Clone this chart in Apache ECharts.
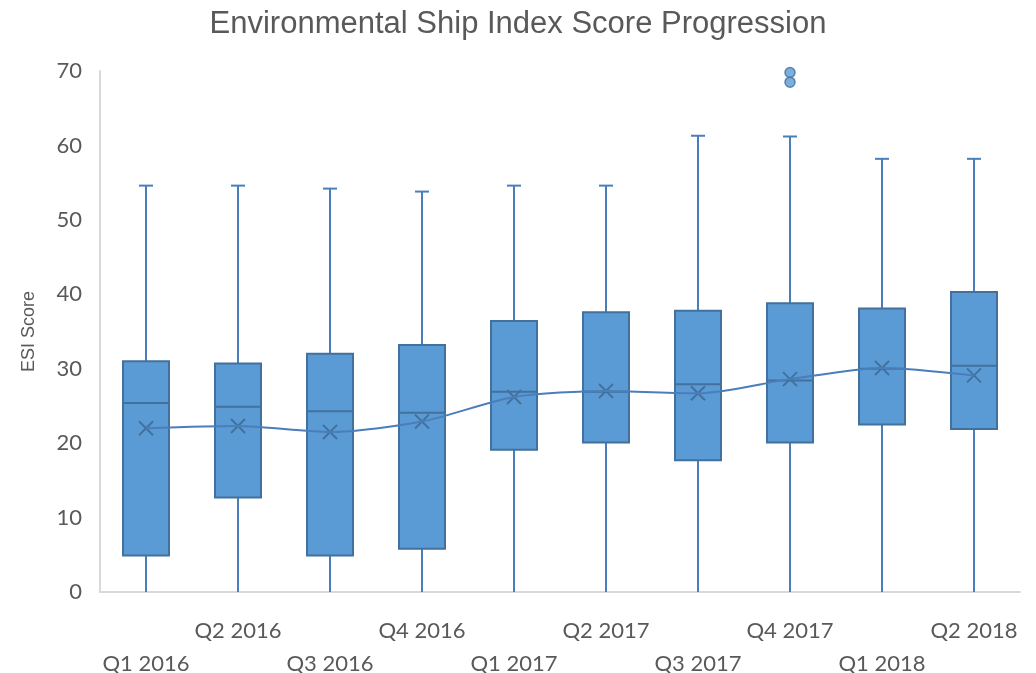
<!DOCTYPE html>
<html><head><meta charset="utf-8">
<script src="https://cdn.jsdelivr.net/npm/echarts@6/dist/echarts.min.js"></script>
<style>html,body{margin:0;padding:0;background:#fff}#c{width:1036px;height:673px}</style>
</head><body><div id="c"></div>
<script>
const categories = ['Q1 2016','Q2 2016','Q3 2016','Q4 2016','Q1 2017','Q2 2017','Q3 2017','Q4 2017','Q1 2018','Q2 2018'];
const whiskerLow = [0,0,0,0,0,0,0,0,0,0];
const q1 = [4.9,12.7,4.9,5.8,19.1,20.1,17.7,20.1,22.5,21.9];
const median = [25.4,24.9,24.3,24.1,26.9,26.9,27.9,28.4,30.0,30.4];
const q3 = [31.0,30.7,32.0,33.2,36.4,37.6,37.8,38.8,38.1,40.3];
const whiskerHigh = [54.6,54.6,54.2,53.8,54.6,54.6,61.3,61.2,58.2,58.2];
const means = [22.0,22.3,21.5,22.9,26.2,27.0,26.7,28.6,30.1,29.1];
const outliers = [['Q4 2017',69.8],['Q4 2017',68.5]];
const yTicks = [0,10,20,30,40,50,60,70];

const fill = '#5b9bd5', stroke = '#41719c', lineCol = '#4a7ebb';
const boxData = categories.map((c,i)=>[i, whiskerLow[i], q1[i], median[i], q3[i], whiskerHigh[i], means[i]]);

function renderBox(params, api){
  const i = api.value(0);
  const pLow = api.coord([i, api.value(1)]);
  const pQ1 = api.coord([i, api.value(2)]);
  const pMed = api.coord([i, api.value(3)]);
  const pQ3 = api.coord([i, api.value(4)]);
  const pHigh = api.coord([i, api.value(5)]);
  const pMean = api.coord([i, api.value(6)]);
  const band = api.size([1,0])[0];
  const w = band*0.5, cap = 14, x = pQ1[0];
  const m = 7;
  return {type:'group', children:[
    {type:'line', shape:{x1:x,y1:pQ3[1],x2:x,y2:pHigh[1]}, style:{stroke:lineCol,lineWidth:2}},
    {type:'line', shape:{x1:x,y1:pQ1[1],x2:x,y2:pLow[1]}, style:{stroke:lineCol,lineWidth:2}},
    {type:'line', shape:{x1:x-cap/2,y1:pHigh[1],x2:x+cap/2,y2:pHigh[1]}, style:{stroke:lineCol,lineWidth:2}},
    {type:'rect', shape:{x:x-w/2,y:pQ3[1],width:w,height:pQ1[1]-pQ3[1]}, style:{fill:fill,stroke:stroke,lineWidth:2}},
    {type:'line', shape:{x1:x-w/2,y1:pMed[1],x2:x+w/2,y2:pMed[1]}, style:{stroke:stroke,lineWidth:2}},
    {type:'line', shape:{x1:pMean[0]-m,y1:pMean[1]-m,x2:pMean[0]+m,y2:pMean[1]+m}, style:{stroke:stroke,lineWidth:2}},
    {type:'line', shape:{x1:pMean[0]-m,y1:pMean[1]+m,x2:pMean[0]+m,y2:pMean[1]-m}, style:{stroke:stroke,lineWidth:2}}
  ]};
}

const chart = echarts.init(document.getElementById('c'), null, {renderer:'canvas'});
chart.setOption({
  animation:false,
  title:{text:'Environmental Ship Index Score Progression', left:'center', top:4,
    textStyle:{fontFamily:'Liberation Sans', fontSize:31, fontWeight:'normal', color:'#595959'}},
  grid:{left:100, right:16, top:71, bottom:81, outerBoundsMode:'none', containLabel:false},
  xAxis:{type:'category', data:categories, boundaryGap:true,
    axisLine:{show:true, lineStyle:{color:'#d9d9d9', width:2}},
    axisTick:{show:false},
    axisLabel:{interval:0, margin:22, fontFamily:'Lato', fontSize:22, color:'#595959', lineHeight:33,
      formatter:(v,i)=> i%2===0 ? '\n'+v : v}},
  yAxis:{type:'value', min:yTicks[0], max:yTicks[yTicks.length-1], interval:10,
    name:'ESI Score', nameLocation:'middle', nameGap:62, nameRotate:90,
    nameTextStyle:{fontFamily:'Liberation Sans', fontSize:18, color:'#595959'},
    axisLine:{show:true, lineStyle:{color:'#d9d9d9', width:2}},
    axisTick:{show:false}, splitLine:{show:false},
    axisLabel:{margin:18, fontFamily:'Lato', fontSize:22, color:'#595959'}},
  series:[
    {type:'custom', renderItem:renderBox, data:boxData, encode:{x:0, y:[1,2,3,4,5,6]}, z:2},
    {type:'line', data:means, smooth:0.25, showSymbol:false, lineStyle:{color:lineCol, width:2}, z:3},
    {type:'scatter', data:outliers, symbol:'circle', symbolSize:10,
      itemStyle:{color:fill, borderColor:stroke, borderWidth:1.5}, z:4}
  ]
});
</script></body></html>
